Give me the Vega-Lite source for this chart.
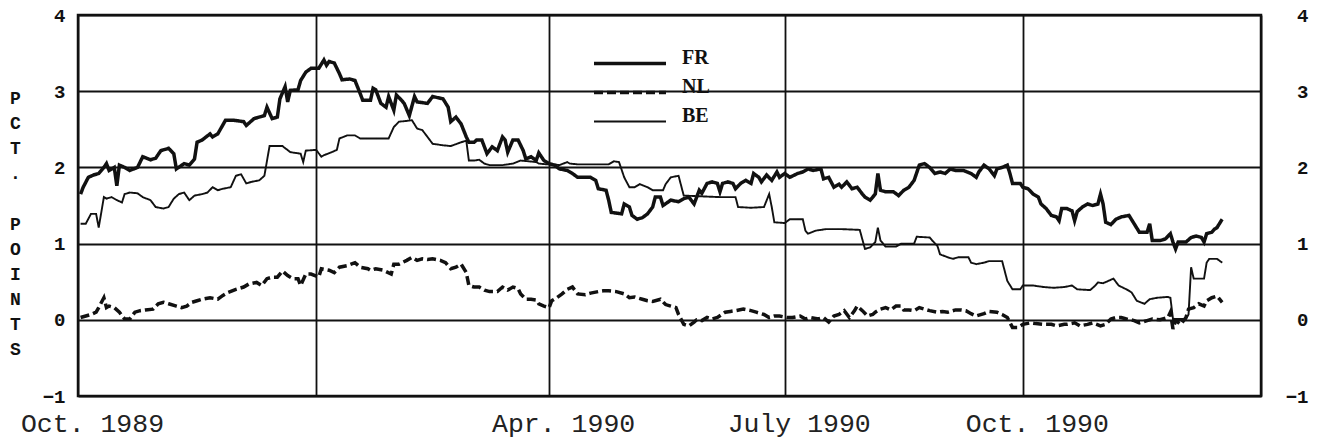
{
  "$schema": "https://vega.github.io/schema/vega-lite/v6.json",
  "width": 1183,
  "height": 381,
  "autosize": "none",
  "padding": {"left": 78, "top": 15, "right": 58, "bottom": 48},
  "background": "white",
  "config": {
    "view": {"stroke": "#111", "strokeWidth": 2.5},
    "font": "Liberation Mono"
  },
  "data": {"values": [
    {"d":"1989-10-02","s":"FR","v":1.65},{"d":"1989-10-03","s":"FR","v":1.74},{"d":"1989-10-05","s":"FR","v":1.87},{"d":"1989-10-07","s":"FR","v":1.90},{"d":"1989-10-09","s":"FR","v":1.92},{"d":"1989-10-11","s":"FR","v":2.00},{"d":"1989-10-12","s":"FR","v":2.05},{"d":"1989-10-13","s":"FR","v":1.96},{"d":"1989-10-15","s":"FR","v":2.00},{"d":"1989-10-16","s":"FR","v":1.76},{"d":"1989-10-17","s":"FR","v":2.03},{"d":"1989-10-19","s":"FR","v":2.00},{"d":"1989-10-21","s":"FR","v":1.96},{"d":"1989-10-24","s":"FR","v":2.00},{"d":"1989-10-26","s":"FR","v":2.14},{"d":"1989-10-29","s":"FR","v":2.10},{"d":"1989-10-31","s":"FR","v":2.12},
    {"d":"1989-11-02","s":"FR","v":2.22},{"d":"1989-11-05","s":"FR","v":2.25},{"d":"1989-11-07","s":"FR","v":2.18},{"d":"1989-11-08","s":"FR","v":1.98},{"d":"1989-11-11","s":"FR","v":2.05},{"d":"1989-11-13","s":"FR","v":2.03},{"d":"1989-11-15","s":"FR","v":2.11},{"d":"1989-11-16","s":"FR","v":2.33},{"d":"1989-11-18","s":"FR","v":2.36},{"d":"1989-11-21","s":"FR","v":2.44},{"d":"1989-11-22","s":"FR","v":2.40},{"d":"1989-11-24","s":"FR","v":2.44},{"d":"1989-11-27","s":"FR","v":2.62},{"d":"1989-11-30","s":"FR","v":2.62},
    {"d":"1989-12-04","s":"FR","v":2.60},{"d":"1989-12-05","s":"FR","v":2.55},{"d":"1989-12-08","s":"FR","v":2.64},{"d":"1989-12-12","s":"FR","v":2.68},{"d":"1989-12-13","s":"FR","v":2.79},{"d":"1989-12-15","s":"FR","v":2.64},{"d":"1989-12-17","s":"FR","v":2.66},{"d":"1989-12-18","s":"FR","v":2.90},{"d":"1989-12-20","s":"FR","v":3.06},{"d":"1989-12-21","s":"FR","v":2.86},{"d":"1989-12-22","s":"FR","v":3.01},{"d":"1989-12-25","s":"FR","v":3.02},{"d":"1989-12-26","s":"FR","v":3.14},{"d":"1989-12-28","s":"FR","v":3.25},{"d":"1989-12-30","s":"FR","v":3.30},
    {"d":"1990-01-02","s":"FR","v":3.30},{"d":"1990-01-04","s":"FR","v":3.41},{"d":"1990-01-05","s":"FR","v":3.34},{"d":"1990-01-06","s":"FR","v":3.39},{"d":"1990-01-08","s":"FR","v":3.37},{"d":"1990-01-10","s":"FR","v":3.23},{"d":"1990-01-11","s":"FR","v":3.15},{"d":"1990-01-14","s":"FR","v":3.16},{"d":"1990-01-16","s":"FR","v":3.14},{"d":"1990-01-18","s":"FR","v":2.97},{"d":"1990-01-19","s":"FR","v":2.88},{"d":"1990-01-22","s":"FR","v":2.88},{"d":"1990-01-23","s":"FR","v":3.04},{"d":"1990-01-24","s":"FR","v":3.02},{"d":"1990-01-26","s":"FR","v":2.84},{"d":"1990-01-28","s":"FR","v":2.79},{"d":"1990-01-29","s":"FR","v":2.93},{"d":"1990-01-31","s":"FR","v":2.75},
    {"d":"1990-02-01","s":"FR","v":2.95},{"d":"1990-02-03","s":"FR","v":2.88},{"d":"1990-02-04","s":"FR","v":2.84},{"d":"1990-02-06","s":"FR","v":2.68},{"d":"1990-02-08","s":"FR","v":2.93},{"d":"1990-02-09","s":"FR","v":2.86},{"d":"1990-02-13","s":"FR","v":2.84},{"d":"1990-02-15","s":"FR","v":2.93},{"d":"1990-02-19","s":"FR","v":2.90},{"d":"1990-02-21","s":"FR","v":2.79},{"d":"1990-02-22","s":"FR","v":2.60},{"d":"1990-02-24","s":"FR","v":2.66},{"d":"1990-02-26","s":"FR","v":2.57},{"d":"1990-02-28","s":"FR","v":2.40},
    {"d":"1990-03-01","s":"FR","v":2.33},{"d":"1990-03-03","s":"FR","v":2.33},{"d":"1990-03-04","s":"FR","v":2.36},{"d":"1990-03-06","s":"FR","v":2.36},{"d":"1990-03-08","s":"FR","v":2.18},{"d":"1990-03-10","s":"FR","v":2.27},{"d":"1990-03-12","s":"FR","v":2.22},{"d":"1990-03-14","s":"FR","v":2.40},{"d":"1990-03-15","s":"FR","v":2.36},{"d":"1990-03-16","s":"FR","v":2.20},{"d":"1990-03-18","s":"FR","v":2.36},{"d":"1990-03-20","s":"FR","v":2.36},{"d":"1990-03-22","s":"FR","v":2.22},{"d":"1990-03-23","s":"FR","v":2.11},{"d":"1990-03-25","s":"FR","v":2.14},{"d":"1990-03-27","s":"FR","v":2.09},{"d":"1990-03-28","s":"FR","v":2.19},{"d":"1990-03-30","s":"FR","v":2.09},
    {"d":"1990-04-01","s":"FR","v":2.05},{"d":"1990-04-03","s":"FR","v":2.03},{"d":"1990-04-05","s":"FR","v":1.98},{"d":"1990-04-08","s":"FR","v":1.96},{"d":"1990-04-10","s":"FR","v":1.92},{"d":"1990-04-12","s":"FR","v":1.87},{"d":"1990-04-17","s":"FR","v":1.87},{"d":"1990-04-19","s":"FR","v":1.83},{"d":"1990-04-20","s":"FR","v":1.72},{"d":"1990-04-23","s":"FR","v":1.70},{"d":"1990-04-24","s":"FR","v":1.57},{"d":"1990-04-25","s":"FR","v":1.41},{"d":"1990-04-29","s":"FR","v":1.39},{"d":"1990-04-30","s":"FR","v":1.52},
    {"d":"1990-05-02","s":"FR","v":1.48},{"d":"1990-05-03","s":"FR","v":1.37},{"d":"1990-05-05","s":"FR","v":1.32},{"d":"1990-05-07","s":"FR","v":1.34},{"d":"1990-05-09","s":"FR","v":1.39},{"d":"1990-05-11","s":"FR","v":1.48},{"d":"1990-05-12","s":"FR","v":1.61},{"d":"1990-05-14","s":"FR","v":1.61},{"d":"1990-05-15","s":"FR","v":1.50},{"d":"1990-05-18","s":"FR","v":1.57},{"d":"1990-05-21","s":"FR","v":1.55},{"d":"1990-05-23","s":"FR","v":1.59},{"d":"1990-05-25","s":"FR","v":1.61},{"d":"1990-05-27","s":"FR","v":1.52},{"d":"1990-05-29","s":"FR","v":1.70},{"d":"1990-05-30","s":"FR","v":1.66},
    {"d":"1990-06-01","s":"FR","v":1.79},{"d":"1990-06-03","s":"FR","v":1.81},{"d":"1990-06-05","s":"FR","v":1.79},{"d":"1990-06-06","s":"FR","v":1.68},{"d":"1990-06-07","s":"FR","v":1.79},{"d":"1990-06-09","s":"FR","v":1.81},{"d":"1990-06-11","s":"FR","v":1.79},{"d":"1990-06-12","s":"FR","v":1.72},{"d":"1990-06-14","s":"FR","v":1.79},{"d":"1990-06-16","s":"FR","v":1.83},{"d":"1990-06-18","s":"FR","v":1.79},{"d":"1990-06-19","s":"FR","v":1.92},{"d":"1990-06-21","s":"FR","v":1.87},{"d":"1990-06-22","s":"FR","v":1.81},{"d":"1990-06-24","s":"FR","v":1.90},{"d":"1990-06-26","s":"FR","v":1.83},{"d":"1990-06-28","s":"FR","v":1.94},{"d":"1990-06-29","s":"FR","v":1.87},
    {"d":"1990-07-01","s":"FR","v":1.92},{"d":"1990-07-03","s":"FR","v":1.87},{"d":"1990-07-06","s":"FR","v":1.92},{"d":"1990-07-08","s":"FR","v":1.94},{"d":"1990-07-10","s":"FR","v":1.98},{"d":"1990-07-12","s":"FR","v":1.96},{"d":"1990-07-15","s":"FR","v":1.98},{"d":"1990-07-16","s":"FR","v":1.85},{"d":"1990-07-18","s":"FR","v":1.87},{"d":"1990-07-20","s":"FR","v":1.74},{"d":"1990-07-22","s":"FR","v":1.78},{"d":"1990-07-23","s":"FR","v":1.74},{"d":"1990-07-25","s":"FR","v":1.81},{"d":"1990-07-27","s":"FR","v":1.72},{"d":"1990-07-29","s":"FR","v":1.74},{"d":"1990-07-31","s":"FR","v":1.65},
    {"d":"1990-08-01","s":"FR","v":1.61},{"d":"1990-08-03","s":"FR","v":1.57},{"d":"1990-08-05","s":"FR","v":1.65},{"d":"1990-08-06","s":"FR","v":1.92},{"d":"1990-08-07","s":"FR","v":1.70},{"d":"1990-08-09","s":"FR","v":1.68},{"d":"1990-08-12","s":"FR","v":1.68},{"d":"1990-08-14","s":"FR","v":1.63},{"d":"1990-08-16","s":"FR","v":1.70},{"d":"1990-08-18","s":"FR","v":1.74},{"d":"1990-08-20","s":"FR","v":1.83},{"d":"1990-08-22","s":"FR","v":2.03},{"d":"1990-08-24","s":"FR","v":2.05},{"d":"1990-08-26","s":"FR","v":2.00},{"d":"1990-08-28","s":"FR","v":1.92},{"d":"1990-08-30","s":"FR","v":1.94},
    {"d":"1990-09-01","s":"FR","v":1.92},{"d":"1990-09-03","s":"FR","v":1.98},{"d":"1990-09-05","s":"FR","v":1.96},{"d":"1990-09-08","s":"FR","v":1.96},{"d":"1990-09-11","s":"FR","v":1.92},{"d":"1990-09-13","s":"FR","v":1.87},{"d":"1990-09-14","s":"FR","v":1.94},{"d":"1990-09-16","s":"FR","v":2.03},{"d":"1990-09-18","s":"FR","v":1.98},{"d":"1990-09-20","s":"FR","v":1.89},{"d":"1990-09-21","s":"FR","v":1.98},{"d":"1990-09-23","s":"FR","v":2.00},{"d":"1990-09-25","s":"FR","v":2.03},{"d":"1990-09-26","s":"FR","v":1.92},{"d":"1990-09-27","s":"FR","v":1.79},{"d":"1990-09-30","s":"FR","v":1.79},
    {"d":"1990-10-01","s":"FR","v":1.74},{"d":"1990-10-03","s":"FR","v":1.72},{"d":"1990-10-05","s":"FR","v":1.65},{"d":"1990-10-07","s":"FR","v":1.61},{"d":"1990-10-08","s":"FR","v":1.52},{"d":"1990-10-10","s":"FR","v":1.46},{"d":"1990-10-12","s":"FR","v":1.37},{"d":"1990-10-14","s":"FR","v":1.35},{"d":"1990-10-15","s":"FR","v":1.30},{"d":"1990-10-16","s":"FR","v":1.46},{"d":"1990-10-18","s":"FR","v":1.46},{"d":"1990-10-20","s":"FR","v":1.43},{"d":"1990-10-21","s":"FR","v":1.30},{"d":"1990-10-22","s":"FR","v":1.42},{"d":"1990-10-24","s":"FR","v":1.48},{"d":"1990-10-26","s":"FR","v":1.52},{"d":"1990-10-28","s":"FR","v":1.50},{"d":"1990-10-30","s":"FR","v":1.52},{"d":"1990-10-31","s":"FR","v":1.65},
    {"d":"1990-11-01","s":"FR","v":1.52},{"d":"1990-11-02","s":"FR","v":1.28},{"d":"1990-11-04","s":"FR","v":1.25},{"d":"1990-11-06","s":"FR","v":1.32},{"d":"1990-11-08","s":"FR","v":1.35},{"d":"1990-11-11","s":"FR","v":1.37},{"d":"1990-11-13","s":"FR","v":1.26},{"d":"1990-11-15","s":"FR","v":1.15},{"d":"1990-11-18","s":"FR","v":1.15},{"d":"1990-11-19","s":"FR","v":1.26},{"d":"1990-11-20","s":"FR","v":1.04},{"d":"1990-11-23","s":"FR","v":1.04},{"d":"1990-11-25","s":"FR","v":1.06},{"d":"1990-11-27","s":"FR","v":1.13},{"d":"1990-11-28","s":"FR","v":1.02},{"d":"1990-11-29","s":"FR","v":0.93},{"d":"1990-11-30","s":"FR","v":1.02},
    {"d":"1990-12-03","s":"FR","v":1.02},{"d":"1990-12-05","s":"FR","v":1.08},{"d":"1990-12-07","s":"FR","v":1.10},{"d":"1990-12-09","s":"FR","v":1.08},{"d":"1990-12-10","s":"FR","v":1.02},{"d":"1990-12-11","s":"FR","v":1.13},{"d":"1990-12-13","s":"FR","v":1.15},{"d":"1990-12-14","s":"FR","v":1.19},{"d":"1990-12-15","s":"FR","v":1.21},{"d":"1990-12-17","s":"FR","v":1.32},

    {"d":"1989-10-02","s":"NL","v":0.03},{"d":"1989-10-04","s":"NL","v":0.05},{"d":"1989-10-06","s":"NL","v":0.07},{"d":"1989-10-08","s":"NL","v":0.10},{"d":"1989-10-09","s":"NL","v":0.16},{"d":"1989-10-11","s":"NL","v":0.29},{"d":"1989-10-12","s":"NL","v":0.16},{"d":"1989-10-13","s":"NL","v":0.18},{"d":"1989-10-15","s":"NL","v":0.16},{"d":"1989-10-17","s":"NL","v":0.10},{"d":"1989-10-19","s":"NL","v":0.01},{"d":"1989-10-21","s":"NL","v":0.01},{"d":"1989-10-23","s":"NL","v":0.10},{"d":"1989-10-25","s":"NL","v":0.12},{"d":"1989-10-27","s":"NL","v":0.13},{"d":"1989-10-30","s":"NL","v":0.14},
    {"d":"1989-11-01","s":"NL","v":0.21},{"d":"1989-11-03","s":"NL","v":0.23},{"d":"1989-11-05","s":"NL","v":0.21},{"d":"1989-11-08","s":"NL","v":0.18},{"d":"1989-11-10","s":"NL","v":0.16},{"d":"1989-11-12","s":"NL","v":0.18},{"d":"1989-11-14","s":"NL","v":0.23},{"d":"1989-11-16","s":"NL","v":0.25},{"d":"1989-11-18","s":"NL","v":0.27},{"d":"1989-11-21","s":"NL","v":0.29},{"d":"1989-11-24","s":"NL","v":0.27},{"d":"1989-11-26","s":"NL","v":0.32},{"d":"1989-11-28","s":"NL","v":0.36},
    {"d":"1989-12-01","s":"NL","v":0.40},{"d":"1989-12-04","s":"NL","v":0.43},{"d":"1989-12-06","s":"NL","v":0.47},{"d":"1989-12-09","s":"NL","v":0.49},{"d":"1989-12-11","s":"NL","v":0.45},{"d":"1989-12-13","s":"NL","v":0.54},{"d":"1989-12-15","s":"NL","v":0.56},{"d":"1989-12-17","s":"NL","v":0.56},{"d":"1989-12-19","s":"NL","v":0.64},{"d":"1989-12-21","s":"NL","v":0.58},{"d":"1989-12-23","s":"NL","v":0.54},{"d":"1989-12-25","s":"NL","v":0.54},{"d":"1989-12-26","s":"NL","v":0.45},{"d":"1989-12-28","s":"NL","v":0.60},{"d":"1989-12-30","s":"NL","v":0.60},
    {"d":"1990-01-02","s":"NL","v":0.56},{"d":"1990-01-03","s":"NL","v":0.67},{"d":"1990-01-06","s":"NL","v":0.65},{"d":"1990-01-08","s":"NL","v":0.62},{"d":"1990-01-10","s":"NL","v":0.69},{"d":"1990-01-13","s":"NL","v":0.71},{"d":"1990-01-16","s":"NL","v":0.75},{"d":"1990-01-18","s":"NL","v":0.69},{"d":"1990-01-21","s":"NL","v":0.67},{"d":"1990-01-22","s":"NL","v":0.65},{"d":"1990-01-24","s":"NL","v":0.67},{"d":"1990-01-27","s":"NL","v":0.65},{"d":"1990-01-30","s":"NL","v":0.60},{"d":"1990-01-31","s":"NL","v":0.73},
    {"d":"1990-02-02","s":"NL","v":0.73},{"d":"1990-02-05","s":"NL","v":0.78},{"d":"1990-02-07","s":"NL","v":0.82},{"d":"1990-02-09","s":"NL","v":0.78},{"d":"1990-02-11","s":"NL","v":0.80},{"d":"1990-02-13","s":"NL","v":0.79},{"d":"1990-02-15","s":"NL","v":0.80},{"d":"1990-02-18","s":"NL","v":0.78},{"d":"1990-02-20","s":"NL","v":0.75},{"d":"1990-02-22","s":"NL","v":0.67},{"d":"1990-02-24","s":"NL","v":0.69},{"d":"1990-02-26","s":"NL","v":0.73},{"d":"1990-02-28","s":"NL","v":0.62},
    {"d":"1990-03-01","s":"NL","v":0.45},{"d":"1990-03-03","s":"NL","v":0.43},{"d":"1990-03-05","s":"NL","v":0.43},{"d":"1990-03-07","s":"NL","v":0.39},{"d":"1990-03-09","s":"NL","v":0.37},{"d":"1990-03-12","s":"NL","v":0.37},{"d":"1990-03-14","s":"NL","v":0.43},{"d":"1990-03-16","s":"NL","v":0.39},{"d":"1990-03-18","s":"NL","v":0.43},{"d":"1990-03-20","s":"NL","v":0.41},{"d":"1990-03-21","s":"NL","v":0.34},{"d":"1990-03-23","s":"NL","v":0.27},{"d":"1990-03-25","s":"NL","v":0.27},{"d":"1990-03-27","s":"NL","v":0.26},{"d":"1990-03-28","s":"NL","v":0.21},{"d":"1990-03-30","s":"NL","v":0.18},
    {"d":"1990-04-01","s":"NL","v":0.16},{"d":"1990-04-02","s":"NL","v":0.25},{"d":"1990-04-04","s":"NL","v":0.29},{"d":"1990-04-06","s":"NL","v":0.34},{"d":"1990-04-08","s":"NL","v":0.40},{"d":"1990-04-10","s":"NL","v":0.43},{"d":"1990-04-12","s":"NL","v":0.34},{"d":"1990-04-15","s":"NL","v":0.33},{"d":"1990-04-17","s":"NL","v":0.35},{"d":"1990-04-20","s":"NL","v":0.37},{"d":"1990-04-22","s":"NL","v":0.38},{"d":"1990-04-24","s":"NL","v":0.38},{"d":"1990-04-27","s":"NL","v":0.37},{"d":"1990-04-30","s":"NL","v":0.34},
    {"d":"1990-05-02","s":"NL","v":0.29},{"d":"1990-05-04","s":"NL","v":0.30},{"d":"1990-05-05","s":"NL","v":0.29},{"d":"1990-05-07","s":"NL","v":0.27},{"d":"1990-05-09","s":"NL","v":0.25},{"d":"1990-05-11","s":"NL","v":0.24},{"d":"1990-05-14","s":"NL","v":0.27},{"d":"1990-05-16","s":"NL","v":0.20},{"d":"1990-05-18","s":"NL","v":0.18},{"d":"1990-05-20","s":"NL","v":0.16},{"d":"1990-05-21","s":"NL","v":0.07},{"d":"1990-05-23","s":"NL","v":-0.06},{"d":"1990-05-25","s":"NL","v":-0.08},{"d":"1990-05-27","s":"NL","v":-0.03},{"d":"1990-05-28","s":"NL","v":0.00},{"d":"1990-05-30","s":"NL","v":-0.01},
    {"d":"1990-06-01","s":"NL","v":0.03},{"d":"1990-06-03","s":"NL","v":0.01},{"d":"1990-06-05","s":"NL","v":0.03},{"d":"1990-06-08","s":"NL","v":0.10},{"d":"1990-06-10","s":"NL","v":0.11},{"d":"1990-06-12","s":"NL","v":0.12},{"d":"1990-06-15","s":"NL","v":0.14},{"d":"1990-06-18","s":"NL","v":0.12},{"d":"1990-06-20","s":"NL","v":0.10},{"d":"1990-06-23","s":"NL","v":0.07},{"d":"1990-06-25","s":"NL","v":0.03},{"d":"1990-06-27","s":"NL","v":0.05},{"d":"1990-06-29","s":"NL","v":0.05},
    {"d":"1990-07-02","s":"NL","v":0.03},{"d":"1990-07-04","s":"NL","v":0.03},{"d":"1990-07-07","s":"NL","v":0.05},{"d":"1990-07-09","s":"NL","v":0.01},{"d":"1990-07-11","s":"NL","v":0.03},{"d":"1990-07-14","s":"NL","v":0.01},{"d":"1990-07-16","s":"NL","v":0.03},{"d":"1990-07-18","s":"NL","v":-0.03},{"d":"1990-07-20","s":"NL","v":0.05},{"d":"1990-07-22","s":"NL","v":0.07},{"d":"1990-07-24","s":"NL","v":0.12},{"d":"1990-07-26","s":"NL","v":0.03},{"d":"1990-07-28","s":"NL","v":0.12},{"d":"1990-07-29","s":"NL","v":0.18},{"d":"1990-07-31","s":"NL","v":0.12},
    {"d":"1990-08-02","s":"NL","v":0.05},{"d":"1990-08-04","s":"NL","v":0.07},{"d":"1990-08-05","s":"NL","v":0.10},{"d":"1990-08-07","s":"NL","v":0.14},{"d":"1990-08-09","s":"NL","v":0.16},{"d":"1990-08-11","s":"NL","v":0.13},{"d":"1990-08-13","s":"NL","v":0.18},{"d":"1990-08-15","s":"NL","v":0.18},{"d":"1990-08-16","s":"NL","v":0.13},{"d":"1990-08-18","s":"NL","v":0.13},{"d":"1990-08-20","s":"NL","v":0.12},{"d":"1990-08-22","s":"NL","v":0.16},{"d":"1990-08-24","s":"NL","v":0.14},{"d":"1990-08-26","s":"NL","v":0.12},{"d":"1990-08-29","s":"NL","v":0.10},{"d":"1990-08-31","s":"NL","v":0.11},
    {"d":"1990-09-02","s":"NL","v":0.10},{"d":"1990-09-05","s":"NL","v":0.13},{"d":"1990-09-07","s":"NL","v":0.13},{"d":"1990-09-09","s":"NL","v":0.12},{"d":"1990-09-11","s":"NL","v":0.08},{"d":"1990-09-13","s":"NL","v":0.05},{"d":"1990-09-16","s":"NL","v":0.08},{"d":"1990-09-18","s":"NL","v":0.11},{"d":"1990-09-21","s":"NL","v":0.10},{"d":"1990-09-23","s":"NL","v":0.07},{"d":"1990-09-25","s":"NL","v":0.03},{"d":"1990-09-27","s":"NL","v":-0.10},{"d":"1990-09-29","s":"NL","v":-0.10},
    {"d":"1990-10-01","s":"NL","v":-0.06},{"d":"1990-10-04","s":"NL","v":-0.04},{"d":"1990-10-06","s":"NL","v":-0.05},{"d":"1990-10-09","s":"NL","v":-0.06},{"d":"1990-10-12","s":"NL","v":-0.06},{"d":"1990-10-14","s":"NL","v":-0.08},{"d":"1990-10-17","s":"NL","v":-0.06},{"d":"1990-10-18","s":"NL","v":-0.06},{"d":"1990-10-21","s":"NL","v":-0.04},{"d":"1990-10-23","s":"NL","v":-0.08},{"d":"1990-10-26","s":"NL","v":-0.06},{"d":"1990-10-28","s":"NL","v":-0.04},{"d":"1990-10-31","s":"NL","v":-0.08},
    {"d":"1990-11-02","s":"NL","v":-0.06},{"d":"1990-11-04","s":"NL","v":0.01},{"d":"1990-11-06","s":"NL","v":0.03},{"d":"1990-11-08","s":"NL","v":0.03},{"d":"1990-11-10","s":"NL","v":0.01},{"d":"1990-11-13","s":"NL","v":-0.01},{"d":"1990-11-15","s":"NL","v":-0.04},{"d":"1990-11-18","s":"NL","v":-0.01},{"d":"1990-11-20","s":"NL","v":0.01},{"d":"1990-11-23","s":"NL","v":0.00},{"d":"1990-11-26","s":"NL","v":0.03},{"d":"1990-11-27","s":"NL","v":0.10},{"d":"1990-11-28","s":"NL","v":-0.12},{"d":"1990-11-29","s":"NL","v":-0.01},
    {"d":"1990-12-01","s":"NL","v":-0.06},{"d":"1990-12-03","s":"NL","v":0.03},{"d":"1990-12-04","s":"NL","v":0.14},{"d":"1990-12-06","s":"NL","v":0.16},{"d":"1990-12-08","s":"NL","v":0.21},{"d":"1990-12-10","s":"NL","v":0.18},{"d":"1990-12-11","s":"NL","v":0.25},{"d":"1990-12-13","s":"NL","v":0.29},{"d":"1990-12-15","s":"NL","v":0.31},{"d":"1990-12-16","s":"NL","v":0.27},{"d":"1990-12-17","s":"NL","v":0.23},

    {"d":"1989-10-02","s":"BE","v":1.26},{"d":"1989-10-04","s":"BE","v":1.26},{"d":"1989-10-06","s":"BE","v":1.39},{"d":"1989-10-08","s":"BE","v":1.39},{"d":"1989-10-09","s":"BE","v":1.21},{"d":"1989-10-11","s":"BE","v":1.61},{"d":"1989-10-12","s":"BE","v":1.59},{"d":"1989-10-14","s":"BE","v":1.61},{"d":"1989-10-16","s":"BE","v":1.57},{"d":"1989-10-18","s":"BE","v":1.54},{"d":"1989-10-19","s":"BE","v":1.65},{"d":"1989-10-21","s":"BE","v":1.67},{"d":"1989-10-24","s":"BE","v":1.66},{"d":"1989-10-26","s":"BE","v":1.61},{"d":"1989-10-29","s":"BE","v":1.57},{"d":"1989-10-31","s":"BE","v":1.48},
    {"d":"1989-11-03","s":"BE","v":1.46},{"d":"1989-11-05","s":"BE","v":1.48},{"d":"1989-11-07","s":"BE","v":1.59},{"d":"1989-11-09","s":"BE","v":1.65},{"d":"1989-11-11","s":"BE","v":1.67},{"d":"1989-11-13","s":"BE","v":1.57},{"d":"1989-11-15","s":"BE","v":1.63},{"d":"1989-11-18","s":"BE","v":1.65},{"d":"1989-11-20","s":"BE","v":1.67},{"d":"1989-11-22","s":"BE","v":1.74},{"d":"1989-11-24","s":"BE","v":1.70},{"d":"1989-11-26","s":"BE","v":1.72},{"d":"1989-11-29","s":"BE","v":1.74},
    {"d":"1989-12-01","s":"BE","v":1.89},{"d":"1989-12-03","s":"BE","v":1.91},{"d":"1989-12-05","s":"BE","v":1.79},{"d":"1989-12-07","s":"BE","v":1.81},{"d":"1989-12-10","s":"BE","v":1.83},{"d":"1989-12-12","s":"BE","v":1.89},{"d":"1989-12-14","s":"BE","v":2.28},{"d":"1989-12-19","s":"BE","v":2.28},{"d":"1989-12-22","s":"BE","v":2.20},{"d":"1989-12-26","s":"BE","v":2.18},{"d":"1989-12-27","s":"BE","v":2.07},{"d":"1989-12-28","s":"BE","v":2.22},
    {"d":"1990-01-01","s":"BE","v":2.23},{"d":"1990-01-03","s":"BE","v":2.14},{"d":"1990-01-04","s":"BE","v":2.16},{"d":"1990-01-07","s":"BE","v":2.20},{"d":"1990-01-09","s":"BE","v":2.23},{"d":"1990-01-10","s":"BE","v":2.38},{"d":"1990-01-13","s":"BE","v":2.42},{"d":"1990-01-16","s":"BE","v":2.42},{"d":"1990-01-18","s":"BE","v":2.38},{"d":"1990-01-22","s":"BE","v":2.38},{"d":"1990-01-26","s":"BE","v":2.38},{"d":"1990-01-29","s":"BE","v":2.38},{"d":"1990-01-31","s":"BE","v":2.53},
    {"d":"1990-02-02","s":"BE","v":2.60},{"d":"1990-02-05","s":"BE","v":2.61},{"d":"1990-02-07","s":"BE","v":2.62},{"d":"1990-02-09","s":"BE","v":2.51},{"d":"1990-02-11","s":"BE","v":2.49},{"d":"1990-02-13","s":"BE","v":2.40},{"d":"1990-02-15","s":"BE","v":2.31},{"d":"1990-02-19","s":"BE","v":2.29},{"d":"1990-02-22","s":"BE","v":2.28},{"d":"1990-02-26","s":"BE","v":2.33},{"d":"1990-02-28","s":"BE","v":2.35},
    {"d":"1990-03-01","s":"BE","v":2.09},{"d":"1990-03-03","s":"BE","v":2.09},{"d":"1990-03-05","s":"BE","v":2.10},{"d":"1990-03-07","s":"BE","v":2.05},{"d":"1990-03-09","s":"BE","v":2.03},{"d":"1990-03-14","s":"BE","v":2.03},{"d":"1990-03-18","s":"BE","v":2.05},{"d":"1990-03-21","s":"BE","v":2.09},{"d":"1990-03-24","s":"BE","v":2.08},{"d":"1990-03-27","s":"BE","v":2.07},{"d":"1990-03-28","s":"BE","v":2.05},{"d":"1990-03-31","s":"BE","v":2.04},
    {"d":"1990-04-03","s":"BE","v":2.04},{"d":"1990-04-05","s":"BE","v":2.03},{"d":"1990-04-08","s":"BE","v":2.07},{"d":"1990-04-09","s":"BE","v":2.05},{"d":"1990-04-12","s":"BE","v":2.04},{"d":"1990-04-19","s":"BE","v":2.04},{"d":"1990-04-24","s":"BE","v":2.04},{"d":"1990-04-26","s":"BE","v":2.08},{"d":"1990-04-28","s":"BE","v":2.07},{"d":"1990-04-30","s":"BE","v":1.87},
    {"d":"1990-05-02","s":"BE","v":1.74},{"d":"1990-05-04","s":"BE","v":1.74},{"d":"1990-05-06","s":"BE","v":1.78},{"d":"1990-05-09","s":"BE","v":1.74},{"d":"1990-05-11","s":"BE","v":1.70},{"d":"1990-05-15","s":"BE","v":1.70},{"d":"1990-05-16","s":"BE","v":1.78},{"d":"1990-05-18","s":"BE","v":1.87},{"d":"1990-05-21","s":"BE","v":1.89},{"d":"1990-05-23","s":"BE","v":1.63},{"d":"1990-05-30","s":"BE","v":1.62},
    {"d":"1990-06-06","s":"BE","v":1.61},{"d":"1990-06-12","s":"BE","v":1.61},{"d":"1990-06-13","s":"BE","v":1.48},{"d":"1990-06-18","s":"BE","v":1.47},{"d":"1990-06-23","s":"BE","v":1.48},{"d":"1990-06-25","s":"BE","v":1.65},{"d":"1990-06-26","s":"BE","v":1.48},{"d":"1990-06-27","s":"BE","v":1.28},
    {"d":"1990-07-01","s":"BE","v":1.27},{"d":"1990-07-03","s":"BE","v":1.32},{"d":"1990-07-08","s":"BE","v":1.32},{"d":"1990-07-09","s":"BE","v":1.17},{"d":"1990-07-10","s":"BE","v":1.13},{"d":"1990-07-13","s":"BE","v":1.17},{"d":"1990-07-17","s":"BE","v":1.19},{"d":"1990-07-23","s":"BE","v":1.19},{"d":"1990-07-30","s":"BE","v":1.18},
    {"d":"1990-08-01","s":"BE","v":0.93},{"d":"1990-08-03","s":"BE","v":0.95},{"d":"1990-08-05","s":"BE","v":1.02},{"d":"1990-08-06","s":"BE","v":1.21},{"d":"1990-08-07","s":"BE","v":1.04},{"d":"1990-08-09","s":"BE","v":0.96},{"d":"1990-08-13","s":"BE","v":0.96},{"d":"1990-08-15","s":"BE","v":1.00},{"d":"1990-08-20","s":"BE","v":1.00},{"d":"1990-08-21","s":"BE","v":1.09},{"d":"1990-08-26","s":"BE","v":1.08},{"d":"1990-08-27","s":"BE","v":1.04},{"d":"1990-08-29","s":"BE","v":0.97},{"d":"1990-08-30","s":"BE","v":0.86},
    {"d":"1990-09-02","s":"BE","v":0.82},{"d":"1990-09-04","s":"BE","v":0.80},{"d":"1990-09-06","s":"BE","v":0.82},{"d":"1990-09-10","s":"BE","v":0.82},{"d":"1990-09-11","s":"BE","v":0.75},{"d":"1990-09-13","s":"BE","v":0.73},{"d":"1990-09-16","s":"BE","v":0.75},{"d":"1990-09-18","s":"BE","v":0.77},{"d":"1990-09-23","s":"BE","v":0.77},{"d":"1990-09-24","s":"BE","v":0.64},{"d":"1990-09-25","s":"BE","v":0.51},{"d":"1990-09-27","s":"BE","v":0.40},{"d":"1990-09-30","s":"BE","v":0.40},
    {"d":"1990-10-01","s":"BE","v":0.45},{"d":"1990-10-05","s":"BE","v":0.45},{"d":"1990-10-09","s":"BE","v":0.43},{"d":"1990-10-13","s":"BE","v":0.42},{"d":"1990-10-17","s":"BE","v":0.43},{"d":"1990-10-20","s":"BE","v":0.45},{"d":"1990-10-22","s":"BE","v":0.40},{"d":"1990-10-27","s":"BE","v":0.39},{"d":"1990-10-29","s":"BE","v":0.45},{"d":"1990-10-30","s":"BE","v":0.49},
    {"d":"1990-11-01","s":"BE","v":0.48},{"d":"1990-11-03","s":"BE","v":0.51},{"d":"1990-11-05","s":"BE","v":0.54},{"d":"1990-11-07","s":"BE","v":0.45},{"d":"1990-11-10","s":"BE","v":0.40},{"d":"1990-11-12","s":"BE","v":0.36},{"d":"1990-11-14","s":"BE","v":0.25},{"d":"1990-11-17","s":"BE","v":0.21},{"d":"1990-11-19","s":"BE","v":0.27},{"d":"1990-11-22","s":"BE","v":0.29},{"d":"1990-11-26","s":"BE","v":0.30},{"d":"1990-11-27","s":"BE","v":0.29},{"d":"1990-11-28","s":"BE","v":0.01},
    {"d":"1990-12-03","s":"BE","v":0.01},{"d":"1990-12-04","s":"BE","v":0.07},{"d":"1990-12-05","s":"BE","v":0.69},{"d":"1990-12-06","s":"BE","v":0.54},{"d":"1990-12-10","s":"BE","v":0.54},{"d":"1990-12-11","s":"BE","v":0.75},{"d":"1990-12-12","s":"BE","v":0.80},{"d":"1990-12-15","s":"BE","v":0.80},{"d":"1990-12-17","s":"BE","v":0.75}
  ]},
  "layer": [
    {
      "mark": {"type": "line", "color": "#111", "strokeCap": "butt", "strokeJoin": "miter"},
      "encoding": {
        "x": {
          "field": "d", "type": "temporal",
          "scale": {"type": "utc", "domain": [{"year": 1989, "month": 10, "date": 1, "utc": true}, {"year": 1991, "month": 1, "date": 1, "utc": true}]},
          "axis": {
            "title": null,
            "values": [
              {"year": 1989, "month": 10, "date": 1, "utc": true},
              {"year": 1990, "month": 1, "date": 1, "utc": true},
              {"year": 1990, "month": 4, "date": 1, "utc": true},
              {"year": 1990, "month": 7, "date": 1, "utc": true},
              {"year": 1990, "month": 10, "date": 1, "utc": true},
              {"year": 1991, "month": 1, "date": 1, "utc": true}
            ],
            "labelExpr": "utcmonth(datum.value) == 9 ? 'Oct. ' + utcyear(datum.value) : utcmonth(datum.value) == 3 ? 'Apr. ' + utcyear(datum.value) : utcmonth(datum.value) == 6 ? 'July ' + utcyear(datum.value) : ''",
            "grid": true, "gridColor": "#111", "gridWidth": 1.8, "gridOpacity": 1,
            "ticks": false, "tickSize": 0, "domain": false,
            "labelFont": "Liberation Mono", "labelFontSize": 26.5, "labelColor": "#222",
            "labelPadding": 14, "labelOffset": 14, "labelFlush": false, "labelOverlap": false
          }
        },
        "y": {
          "field": "v", "type": "quantitative",
          "scale": {"domain": [-1, 4], "nice": false, "zero": false},
          "axis": {
            "orient": "left",
            "values": [-1, 0, 1, 2, 3, 4],
            "grid": true, "gridColor": "#111", "gridWidth": 2, "gridOpacity": 1,
            "ticks": false, "tickSize": 0, "domain": false,
            "labelFont": "Liberation Mono", "labelFontWeight": "bold", "labelFontSize": 19, "labelColor": "#111",
            "labelPadding": 13, "labelOverlap": false, "labelFlush": false,
            "title": ["P", "C", "T", ".", "\u200b", "P", "O", "I", "N", "T", "S"],
            "titleFont": "Liberation Mono", "titleFontWeight": "bold", "titleFontSize": 18, "titleColor": "#111",
            "titleAngle": 0, "titleAlign": "center", "titleBaseline": "alphabetic",
            "titleX": -63, "titleY": 88, "titleLineHeight": 25.2
          }
        },
        "strokeDash": {
          "field": "s", "type": "nominal",
          "scale": {"domain": ["FR", "NL", "BE"], "range": [[1, 0], [9, 4], [1, 0]]},
          "legend": {
            "orient": "none", "legendX": 514, "legendY": 36, "title": null,
            "symbolType": "stroke", "symbolSize": 5184, "clipHeight": 25, "rowPadding": 0,
            "symbolStrokeColor": "#111", "padding": 0,
            "labelFont": "Liberation Serif", "labelFontWeight": "bold", "labelFontSize": 20, "labelColor": "#111",
            "labelOffset": 14, "labelBaseline": "alphabetic"
          }
        },
        "strokeWidth": {
          "field": "s", "type": "nominal",
          "scale": {"type": "ordinal", "domain": ["FR", "NL", "BE"], "range": [3.5, 3.5, 1.9]},
          "legend": {
            "orient": "none", "legendX": 514, "legendY": 36, "title": null,
            "symbolType": "stroke", "symbolSize": 5184, "clipHeight": 25, "rowPadding": 0,
            "symbolStrokeColor": "#111", "padding": 0,
            "labelFont": "Liberation Serif", "labelFontWeight": "bold", "labelFontSize": 20, "labelColor": "#111",
            "labelOffset": 14, "labelBaseline": "alphabetic"
          }
        },
        "detail": {"field": "s"}
      }
    },
    {
      "mark": {"type": "line", "opacity": 0},
      "encoding": {
        "x": {"field": "d", "type": "temporal"},
        "y": {
          "field": "v", "type": "quantitative",
          "axis": {
            "orient": "right",
            "values": [-1, 0, 1, 2, 3, 4],
            "grid": false, "ticks": false, "tickSize": 0, "domain": false,
            "labelFont": "Liberation Mono", "labelFontWeight": "bold", "labelFontSize": 19, "labelColor": "#111",
            "labelAlign": "right", "labelPadding": 47, "labelOverlap": false, "labelFlush": false,
            "title": null
          }
        },
        "detail": {"field": "s"}
      }
    }
  ],
  "resolve": {"axis": {"y": "independent"}}
}
